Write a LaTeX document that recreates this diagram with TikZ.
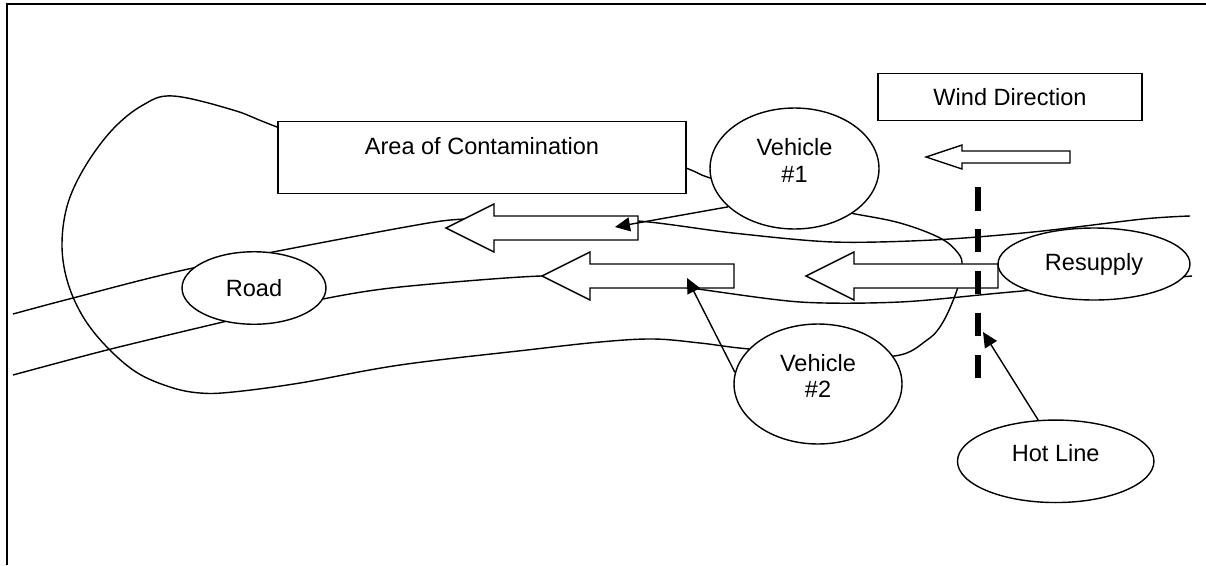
\documentclass[tikz,border=0pt]{standalone}
\usepackage{fontspec}
\setmainfont{Liberation Sans}
\usetikzlibrary{arrows.meta,shapes.geometric}

\begin{document}
\begin{tikzpicture}[x=0.02cm, y=-0.02cm, line width=0.8pt, align=center,
        font=\fontsize{13.4}{14.8}\selectfont,
        box/.style={draw, fill=white},
        oval/.style={draw, fill=white, ellipse, inner sep=0pt},
        blockarrow/.style={draw, fill=white, line join=miter},
        pointer/.style={-{Triangle[length=0.3cm, width=0.28cm]}}]
        \useasboundingbox (0,0) rectangle (1206,565);
        \draw[line width=1.1pt] (7,565) -- (7,4) -- (1206,4);

        % contaminated area and the road
        \draw plot[smooth cycle, tension=0.6] coordinates {(173,96) (233,110) (277,127) (420,181) (600,135) (686,168) (710,178) (780,200) (850,213) (900,223) (940,238) (958,253) (962,266) (957,290) (943,322) (927,340) (894,356) (820,352) (750,349) (700,343) (653,339) (600,342) (527,350) (400,365) (300,383) (233,392) (200,393) (170,387) (136,372) (105,345) (82,315) (67,280) (62,243) (68,203) (86,165) (113,129) (143,105)};
        \draw plot[smooth, tension=0.5] coordinates {(13,314) (73,298) (193,268) (400,228) (465,219) (550,220) (638,221) (733,233) (833,242) (933,240) (1033,232) (1143,219) (1190,216)};
        \draw plot[smooth, tension=0.5] coordinates {(13,375) (107,350) (223,322) (323,299) (400,287) (541,276) (620,280) (690,288) (800,302) (900,302) (1000,293) (1110,283) (1192,276)};

        % travel arrows
        \draw[blockarrow] (446,228) -- (494,204) -- (494,216) -- (638,216) -- (638,240) -- (494,240) -- (494,252) -- cycle;
        \draw[blockarrow] (542,276) -- (590,252) -- (590,264) -- (734,264) -- (734,288) -- (590,288) -- (590,300) -- cycle;
        \draw[blockarrow] (806,276) -- (854,252) -- (854,264) -- (998,264) -- (998,288) -- (854,288) -- (854,300) -- cycle;
        \draw[blockarrow] (926,157) -- (962,145) -- (962,151) -- (1070,151) -- (1070,163) -- (962,163) -- (962,169) -- cycle;

        \coordinate (hottop) at (978,187);
        \coordinate (hotbottom) at (978,378);
        \draw[line width=0.12cm, dash pattern=on 0.47cm off 0.37cm] (hottop) -- (hotbottom);

        \node [box, anchor=north, minimum width=8.16cm, text height=0.34cm, text depth=0.46cm, inner ysep=0.32cm] (area) at (482,121) {Area of Contamination};
        \node [box, minimum width=5.28cm, minimum height=0.95cm] (wind) at (1010,97) {Wind Direction};
        \node [oval, minimum width=3.38cm, minimum height=2.42cm, text height=0.7cm, text depth=0.16cm] (veh1) at (794.5,168.5) {Vehicle\\\#1};
        \node [oval, minimum width=3.36cm, minimum height=2.4cm, text height=0.7cm, text depth=0.16cm] (veh2) at (818,384) {Vehicle\\\#2};
        \node [oval, minimum width=2.88cm, minimum height=1.45cm] (road) at (254,288) {Road};
        \node [oval, minimum width=3.84cm, minimum height=1.44cm] (resupply) at (1094,264) {Resupply};
        \node [oval, minimum width=3.93cm, minimum height=1.65cm, text height=0.18cm, text depth=0.16cm] (hotline) at (1055.7,461.3) {Hot Line};

        \coordinate (tipone) at (615,227);
        \coordinate (tiptwo) at (687,278);
        \coordinate (hottip) at (983,332);
        \draw[pointer] (veh1.210) -- (tipone);
        \draw[pointer] (veh2.172) -- (tiptwo);
        \draw[pointer] (hotline.113) -- (hottip);
    \end{tikzpicture}
\end{document}
